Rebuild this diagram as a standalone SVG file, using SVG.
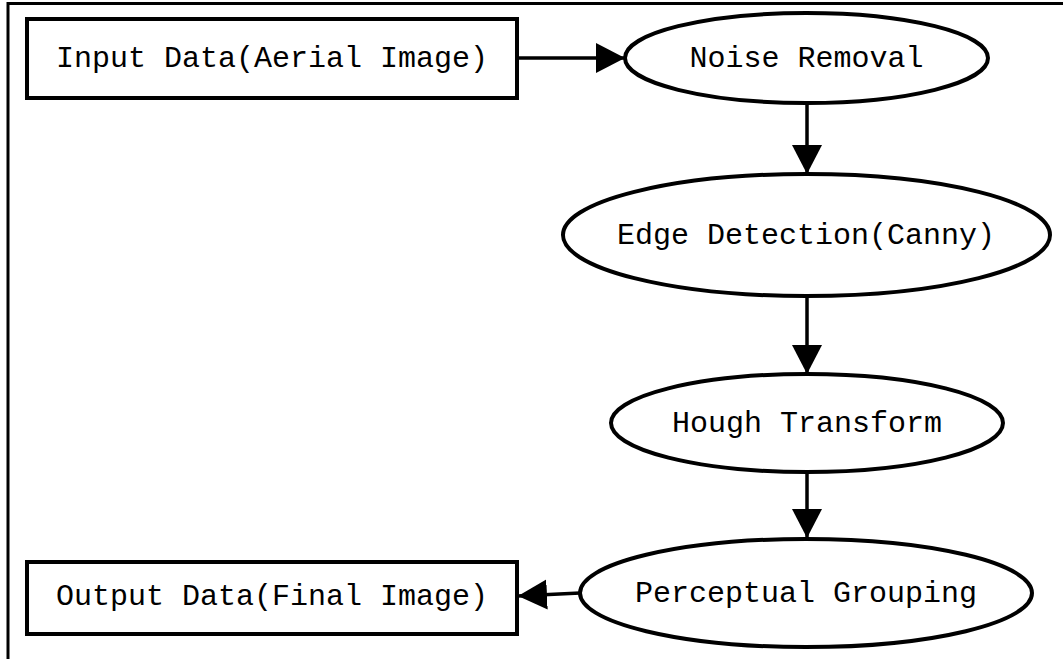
<svg xmlns="http://www.w3.org/2000/svg" width="1063" height="659" viewBox="0 0 1063 659">
  <style>
    .frame { fill: none; stroke: #000; stroke-width: 3; }
    .box { fill: #fff; stroke: #000; stroke-width: 4; }
    .oval { fill: #fff; stroke: #000; stroke-width: 4; }
    .label { font-family: "Courier New", "Nimbus Mono PS", "FreeMono", "Liberation Mono", monospace; font-size: 30px; fill: #000; text-anchor: middle; }
    .edge { fill: none; stroke: #000; stroke-width: 3.5; }
  </style>
  <defs>
    <marker id="arrow" markerUnits="userSpaceOnUse" markerWidth="31" markerHeight="31" refX="29" refY="15" orient="auto">
      <path d="M0,0 L29,15 L0,30 Z" fill="#000"/>
    </marker>
  </defs>
  <rect width="1063" height="659" fill="#fff"/>
  <!-- outer frame (left and top edges) -->
  <path class="frame" d="M8,659 L8,3.5 L1063,3.5"/>

  <g id="connectors">
    <line class="edge" x1="517" y1="58" x2="625" y2="58" marker-end="url(#arrow)"/>
    <line class="edge" x1="807" y1="103" x2="807" y2="174" marker-end="url(#arrow)"/>
    <line class="edge" x1="807" y1="296" x2="807" y2="374" marker-end="url(#arrow)"/>
    <line class="edge" x1="807" y1="472" x2="807" y2="538" marker-end="url(#arrow)"/>
    <line class="edge" x1="580" y1="593" x2="518" y2="596" marker-end="url(#arrow)"/>
  </g>

  <g id="input-data">
    <rect class="box" x="27" y="19" width="490" height="79"/>
    <text class="label" x="272" y="67">Input Data(Aerial Image)</text>
  </g>

  <g id="noise-removal">
    <ellipse class="oval" cx="806.5" cy="58" rx="181.5" ry="45"/>
    <text class="label" x="806.5" y="67">Noise Removal</text>
  </g>

  <g id="edge-detection">
    <ellipse class="oval" cx="806.5" cy="235" rx="243.5" ry="61"/>
    <text class="label" x="806" y="244">Edge Detection(Canny)</text>
  </g>

  <g id="hough-transform">
    <ellipse class="oval" cx="807" cy="423" rx="196" ry="49"/>
    <text class="label" x="807" y="432">Hough Transform</text>
  </g>

  <g id="perceptual-grouping">
    <ellipse class="oval" cx="806" cy="593" rx="226" ry="54"/>
    <text class="label" x="806" y="602">Perceptual Grouping</text>
  </g>

  <g id="output-data">
    <rect class="box" x="27" y="562" width="490" height="72"/>
    <text class="label" x="272" y="605">Output Data(Final Image)</text>
  </g>
</svg>
